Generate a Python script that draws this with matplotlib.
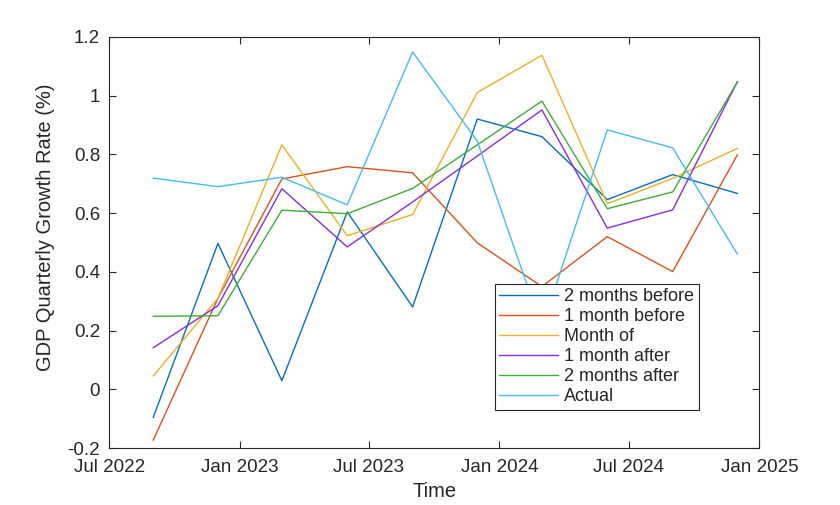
import matplotlib
matplotlib.use("Agg")
import matplotlib.pyplot as plt
import matplotlib.dates as mdates
import numpy as np
from datetime import datetime

plt.rcParams['font.family'] = ['Liberation Sans', 'DejaVu Sans']

dates = [datetime(2022, 9, 1), datetime(2022, 12, 1), datetime(2023, 3, 1),
         datetime(2023, 6, 1), datetime(2023, 9, 1), datetime(2023, 12, 1),
         datetime(2024, 3, 1), datetime(2024, 6, 1), datetime(2024, 9, 1),
         datetime(2024, 12, 1)]

two_before = [-0.095, 0.497, 0.030, 0.604, 0.281, 0.920, 0.860, 0.646, 0.731, 0.667]
one_before = [-0.172, 0.31, 0.716, 0.758, 0.737, 0.499, 0.35, 0.52, 0.401, 0.798]
month_of = [0.046, 0.31, 0.832, 0.523, 0.595, 1.010, 1.137, 0.632, 0.718, 0.820]
one_after = [0.142, 0.285, 0.683, 0.485, 0.638, 0.794, 0.951, 0.549, 0.611, 1.047]
two_after = [0.249, 0.251, 0.610, 0.598, 0.684, 0.832, 0.981, 0.615, 0.672, 1.046]
actual = [0.719, 0.690, 0.722, 0.628, 1.148, 0.845, 0.21, 0.883, 0.822, 0.461]

labels = ["2 months before", "1 month before", "Month of",
          "1 month after", "2 months after", "Actual"]
colors = ["#0072BD", "#D95319", "#EDB120", "#8A2BE2", "#3DAE36", "#3FBFEF"]

fig = plt.figure(figsize=(8.4, 5.05), dpi=100)
ax = fig.add_axes([0.130, 0.1123, 0.774, 0.8150])

series = [two_before, one_before, month_of, one_after, two_after, actual]
for s, lab, c in zip(series, labels, colors):
    ax.plot(dates, s, color=c, linewidth=1.0, label=lab)

ax.set_xlim(datetime(2022, 7, 1), datetime(2025, 1, 1))
ax.set_ylim(-0.2, 1.2)
ax.set_yticks(np.arange(-0.2, 1.21, 0.2))
ax.set_yticklabels(["-0.2", "0", "0.2", "0.4", "0.6", "0.8", "1", "1.2"])
xt = [datetime(2022, 7, 1), datetime(2023, 1, 1), datetime(2023, 7, 1),
      datetime(2024, 1, 1), datetime(2024, 7, 1), datetime(2025, 1, 1)]
ax.set_xticks(xt)
ax.xaxis.set_major_formatter(mdates.DateFormatter("%b %Y"))

ax.tick_params(direction='in', top=True, right=True, length=5, width=0.8,
               labelsize=13.5, colors='#262626')
ax.tick_params(axis='x', pad=8)
ax.tick_params(axis='y', pad=6.5)
for sp in ax.spines.values():
    sp.set_linewidth(0.8)
    sp.set_color('#262626')

ax.set_xlabel("Time", fontsize=14.5, color='#262626')
ax.set_ylabel("GDP Quarterly Growth Rate (%)", fontsize=14.5, color='#262626')
ax.xaxis.set_label_coords(0.5, -0.082)
ax.yaxis.set_label_coords(-0.083, 0.536)

leg = ax.legend(loc='lower left', bbox_to_anchor=(0.593, 0.093), fontsize=13,
                frameon=True, fancybox=False, framealpha=1, edgecolor='#262626',
                handlelength=3.26, handletextpad=0.33, labelspacing=0.17,
                borderpad=0.25, borderaxespad=0)
leg.get_frame().set_linewidth(0.8)
for t in leg.get_texts():
    t.set_color('#262626')

fig.savefig("out.png", dpi=100)
